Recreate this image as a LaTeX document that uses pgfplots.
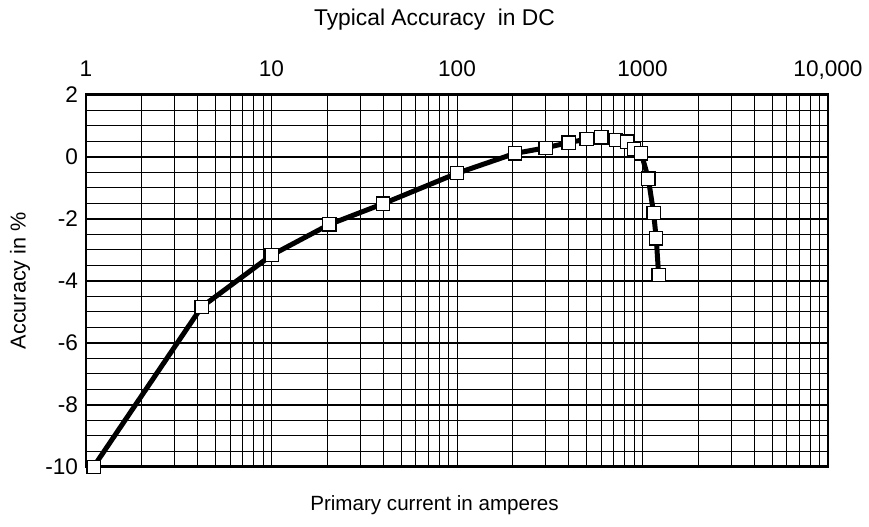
\documentclass[border=0pt]{standalone}
\usepackage{pgfplots}
\pgfplotsset{compat=1.18}
\usepackage{fontspec}
\setmainfont{Liberation Sans}

\begin{document}
\begin{tikzpicture}
\begin{axis}[
    scale only axis,
    width=371pt, height=186.1pt,
    clip=false,
    xmode=log,
    xmin=1, xmax=10000, ymin=-10, ymax=2,
    xtick={1,10,100,1000,10000},
    xticklabels={1,10,100,1000,{10,000}},
    minor xtick={2,3,4,5,6,7,8,9,20,30,40,50,60,70,80,90,200,300,400,500,600,700,800,900,2000,3000,4000,5000,6000,7000,8000,9000},
    xticklabel pos=upper,
    ytick={-10,-8,-6,-4,-2,0,2},
    yticklabels={-10,-8,-6,-4,-2,0,2},
    minor ytick={-9.5,-9,-8.5,-7.5,-7,-6.5,-5.5,-5,-4.5,-3.5,-3,-2.5,-1.5,-1,-0.5,0.5,1,1.5},
    grid=both,
    major tick length=0pt, minor tick length=0pt,
    minor grid style={black, line width=0.5pt},
    major x grid style={black, line width=0.5pt},
    major y grid style={black, line width=1pt},
    axis line style={line width=1.3pt},
    tick label style={font=\fontsize{11.3}{13}\selectfont},
    xticklabel style={text depth=0pt, yshift=5.5pt},
    yticklabel style={xshift=-0.5pt},
    xlabel={Primary current in amperes},
    xlabel style={at={(0.4697,-0.103)}, anchor=center, font=\fontsize{10.3}{12}\selectfont},
    ylabel={Accuracy in \%},
    ylabel style={at={(-0.089,0.5)}, anchor=center, font=\fontsize{10.8}{12}\selectfont},
]
\addplot[black, line width=2.5pt, mark=square*, mark size=3.3pt,
    mark options={fill=white, draw=black, line width=0.6pt}] coordinates {
    (1.1,-10) (4.2,-4.85) (10,-3.18) (20.5,-2.19) (40,-1.52) (100,-0.54)
    (205,0.1) (300,0.28) (400,0.45) (500,0.56) (600,0.62) (720,0.53)
    (830,0.48) (900,0.24) (985,0.1) (1075,-0.71) (1148,-1.83) (1186,-2.64)
    (1222,-3.82)
};
\node[font=\fontsize{11.4}{13}\selectfont] at (rel axis cs:0.4697,1.2003) {Typical Accuracy\ \ in DC};
\end{axis}
\pgfresetboundingbox
\path[use as bounding box] ([xshift=-43pt,yshift=-29.65pt]current axis.south west)
    rectangle ([xshift=20.5pt,yshift=47.25pt]current axis.north east);
\end{tikzpicture}
\end{document}
